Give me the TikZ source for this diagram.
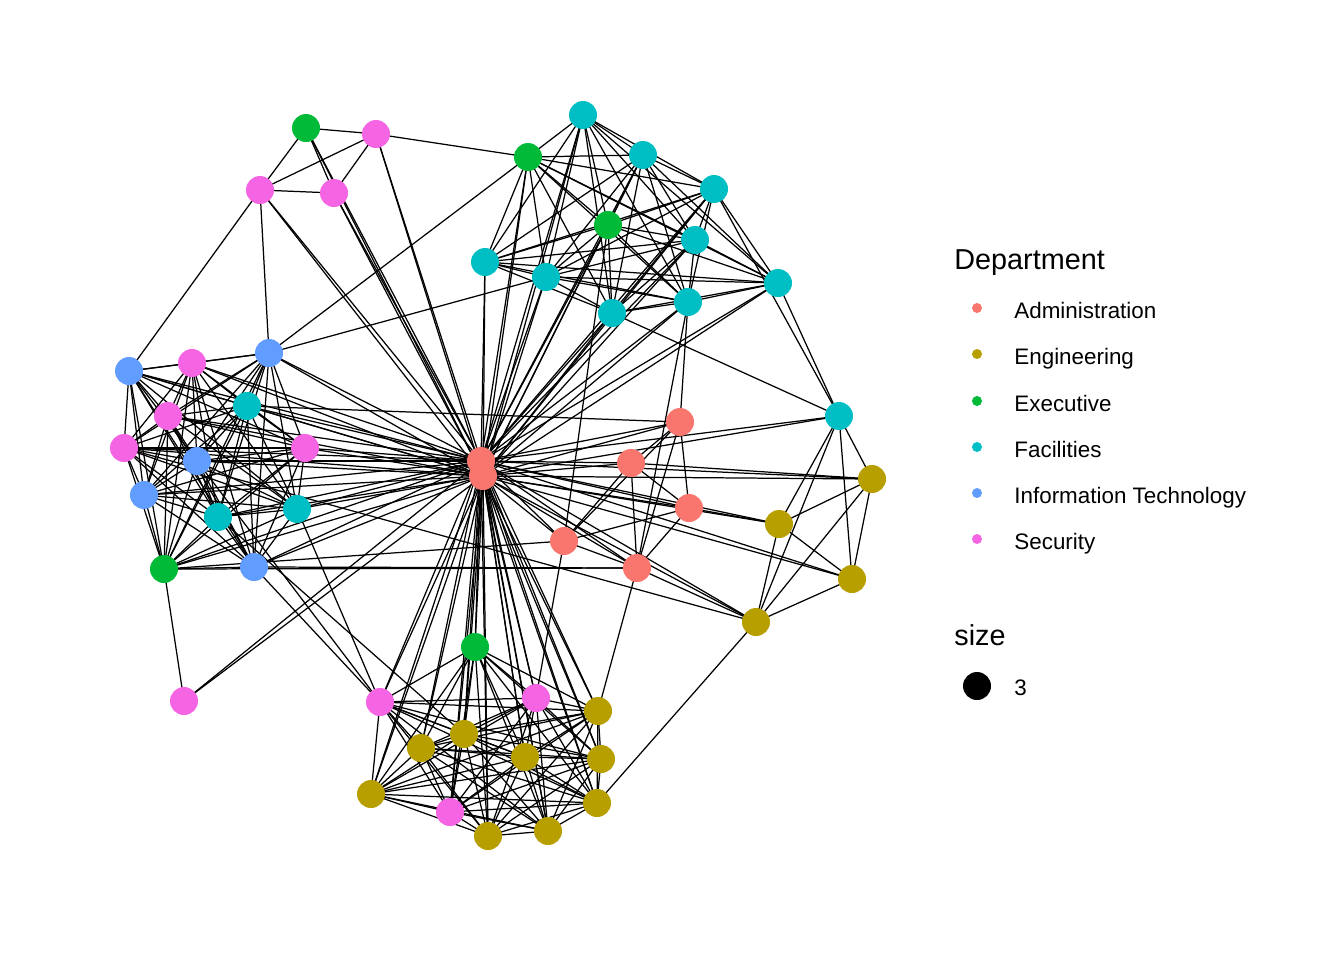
\documentclass[tikz,border=0pt]{standalone}
\usepackage{fontspec}
\setmainfont{Liberation Sans}
\usepackage{xcolor}
\definecolor{adm}{HTML}{F8766D}
\definecolor{eng}{HTML}{B79F00}
\definecolor{exe}{HTML}{00BA38}
\definecolor{fac}{HTML}{00BFC4}
\definecolor{itc}{HTML}{619CFF}
\definecolor{sec}{HTML}{F564E3}
\pgfdeclarelayer{edges}
\pgfsetlayers{edges,main}

\begin{document}
\begin{tikzpicture}[x=0.5pt, y=-0.5pt,
    vertex/.style={circle, inner sep=0pt, minimum size=14pt},
    adm-node/.style={vertex, fill=adm}, eng-node/.style={vertex, fill=eng},
    exe-node/.style={vertex, fill=exe}, fac-node/.style={vertex, fill=fac},
    itc-node/.style={vertex, fill=itc}, sec-node/.style={vertex, fill=sec},
    edge/.style={draw=black, line width=0.62pt},
    key-dot/.style={circle, inner sep=0pt, minimum size=5pt},
    key-text/.style={anchor=base west, inner sep=0pt, font=\fontsize{11.2}{13}\selectfont},
    key-title/.style={anchor=base west, inner sep=0pt, font=\fontsize{14.4}{17}\selectfont}]
    \useasboundingbox (0,0) rectangle (1344,960);
    % top left
    \node [exe-node] (g1) at (306,128) {};
    \node [sec-node] (s1) at (376,134) {};
    \node [sec-node] (s2) at (260,190) {};
    \node [sec-node] (s3) at (334,193) {};
    % top right
    \node [fac-node] (f1) at (583,115) {};
    \node [exe-node] (g2) at (528,157) {};
    \node [fac-node] (f2) at (643,155) {};
    \node [fac-node] (f3) at (714,189) {};
    \node [exe-node] (g3) at (608,225) {};
    \node [fac-node] (f4) at (695,240) {};
    \node [fac-node] (f5) at (485,262) {};
    \node [fac-node] (f6) at (546,277) {};
    \node [fac-node] (f7) at (778,283) {};
    \node [fac-node] (f8) at (688,302) {};
    \node [fac-node] (f9) at (612,313) {};
    % left
    \node [itc-node] (i1) at (129,371) {};
    \node [sec-node] (s4) at (192,363) {};
    \node [itc-node] (i2) at (269,353) {};
    \node [fac-node] (f10) at (247,406) {};
    \node [sec-node] (s5) at (168,416) {};
    \node [sec-node] (s6) at (124,448) {};
    \node [sec-node] (s7) at (305,448) {};
    \node [itc-node] (i3) at (197,461) {};
    \node [itc-node] (i4) at (144,495) {};
    \node [fac-node] (f11) at (218,517) {};
    \node [fac-node] (f12) at (297,509) {};
    \node [exe-node] (g4) at (164,569) {};
    \node [itc-node] (i5) at (254,567) {};
    \node [sec-node] (s8) at (184,701) {};
    % centre
    \node [adm-node] (a0) at (481,461) {};
    \node [adm-node] (a1) at (483,476) {};
    \node [adm-node] (a2) at (680,422) {};
    \node [adm-node] (a3) at (631,463) {};
    \node [adm-node] (a4) at (689,508) {};
    \node [adm-node] (a5) at (564,541) {};
    \node [adm-node] (a6) at (637,568) {};
    % right
    \node [fac-node] (f13) at (839,416) {};
    \node [eng-node] (e1) at (872,479) {};
    \node [eng-node] (e2) at (779,524) {};
    \node [eng-node] (e3) at (852,579) {};
    \node [eng-node] (e4) at (756,622) {};
    % bottom
    \node [exe-node] (g5) at (475,647) {};
    \node [sec-node] (s9) at (380,702) {};
    \node [sec-node] (s10) at (536,698) {};
    \node [eng-node] (e5) at (598,711) {};
    \node [eng-node] (e6) at (421,748) {};
    \node [eng-node] (e7) at (464,734) {};
    \node [eng-node] (e8) at (525,757) {};
    \node [eng-node] (e9) at (601,759) {};
    \node [eng-node] (e10) at (371,794) {};
    \node [sec-node] (s11) at (450,812) {};
    \node [eng-node] (e11) at (597,803) {};
    \node [eng-node] (e12) at (488,836) {};
    \node [eng-node] (e13) at (548,831) {};

    \begin{pgfonlayer}{edges}
        \foreach \u [count=\i] in {f1,g2,f2,f3,g3,f4,f5,f6,f7,f8,f9}
            \foreach \v [count=\j] in {f1,g2,f2,f3,g3,f4,f5,f6,f7,f8,f9}
                {\ifnum\j>\i \draw [edge] (\u.center) -- (\v.center); \fi}
        \foreach \u [count=\i] in {i1,s4,i2,f10,s5,s6,s7,i3,i4,f11,f12,g4,i5}
            \foreach \v [count=\j] in {i1,s4,i2,f10,s5,s6,s7,i3,i4,f11,f12,g4,i5}
                {\ifnum\j>\i \draw [edge] (\u.center) -- (\v.center); \fi}
        \foreach \u [count=\i] in {g5,s9,s10,e5,e6,e7,e8,e9,e10,s11,e11,e12,e13}
            \foreach \v [count=\j] in {g5,s9,s10,e5,e6,e7,e8,e9,e10,s11,e11,e12,e13}
                {\ifnum\j>\i \draw [edge] (\u.center) -- (\v.center); \fi}
        \foreach \v in {g1,s1,s2,s3,f1,g2,f2,f3,g3,f4,f5,f6,f7,f8,f9,
                        i1,s4,i2,f10,s5,s6,s7,i3,i4,f11,f12,g4,i5,s8,
                        a2,a3,a4,a5,a6,f13,e1,e2,e3,e4,
                        g5,s9,s10,e5,e6,e7,e8,e9,e10,s11,e11,e12,e13}
            {\draw [edge] (a0.center) -- (\v.center);
             \draw [edge] (a1.center) -- (\v.center);}
        \foreach \a/\b in {g1/s1, g1/s2, g1/s3, s1/s2, s1/s3, s2/s3, s1/g2,
                           s2/i1, s2/i2, g2/i2, f6/i2,
                           f13/e1, f13/e2, f13/e3, f13/e4, e1/e2, e1/e3, e1/e4,
                           e2/e3, e2/e4, e3/e4, f7/f13, f9/f13, f3/f13,
                           a3/e1, a4/e2, a6/e4, e4/e11, s6/e4,
                           a2/a3, a2/a4, a2/a5, a2/a6, a3/a4, a3/a5, a3/a6,
                           a4/a5, a4/a6, a5/a6, f8/a2, f8/a6, g3/a5, a5/s10,
                           a6/e5, f10/a2, g4/a5, g4/a6, i5/a6,
                           i3/s9, f11/e7, f12/s9, i5/s9, s8/g4}
            \draw [edge] (\a.center) -- (\b.center);
    \end{pgfonlayer}

    % legend
    \node [key-title] (dept-title) at (954,269) {Department};
    \node [key-dot, fill=adm] (dot-adm) at (977,308) {};
    \node [key-dot, fill=eng] (dot-eng) at (977,354) {};
    \node [key-dot, fill=exe] (dot-exe) at (977,401) {};
    \node [key-dot, fill=fac] (dot-fac) at (977,447) {};
    \node [key-dot, fill=itc] (dot-itc) at (977,493) {};
    \node [key-dot, fill=sec] (dot-sec) at (977,539) {};
    \node [key-text] (lab-adm) at (1014,318) {Administration};
    \node [key-text] (lab-eng) at (1014,364) {Engineering};
    \node [key-text] (lab-exe) at (1014,411) {Executive};
    \node [key-text] (lab-fac) at (1014,457) {Facilities};
    \node [key-text] (lab-itc) at (1014,503) {Information Technology};
    \node [key-text] (lab-sec) at (1014,549) {Security};
    \node [key-title] (size-title) at (954,645) {size};
    \node [vertex, fill=black] (dot-size) at (977,686) {};
    \node [key-text] (lab-size) at (1014,695) {3};
\end{tikzpicture}
\end{document}
